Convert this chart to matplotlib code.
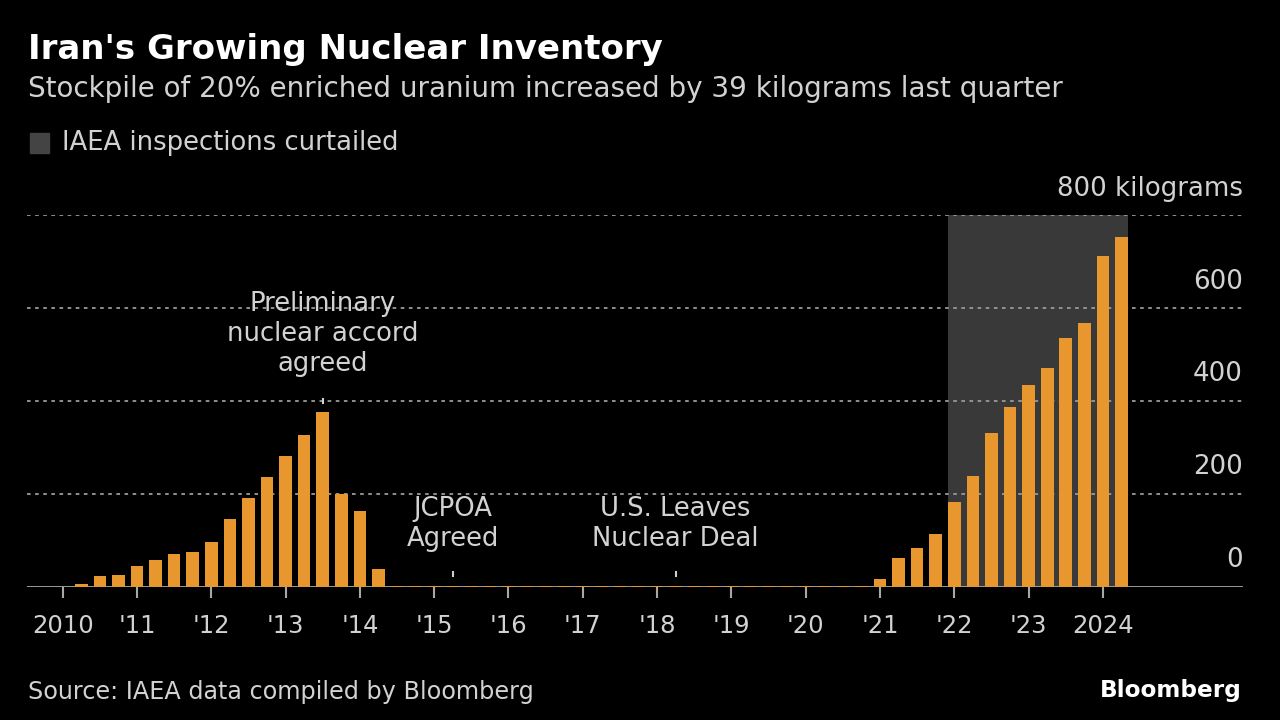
import numpy as np
import matplotlib
matplotlib.use("Agg")
import matplotlib.pyplot as plt
import matplotlib.transforms as mtransforms

# quarterly stockpile of 20% enriched uranium (kg), 2010 Q1 .. 2024 Q2
quarters = np.arange(58) * 0.25 + 2010
stock_kg = [0, 6, 22, 25,
            44, 57, 70, 74,
            96, 146, 191, 236,
            282, 326, 377, 199,
            162, 38, 2, 2,
            2, 2, 2, 2,
            2, 2, 2, 2,
            2, 2, 2, 2,
            2, 2, 2, 2,
            2, 2, 2, 2,
            2, 2, 2, 2,
            17, 62, 83, 113,
            182, 239, 331, 386,
            435, 470, 536, 567,
            712, 752]

tick_years = list(range(2010, 2025))
tick_labels = ["2010", "'11", "'12", "'13", "'14", "'15", "'16", "'17", "'18",
               "'19", "'20", "'21", "'22", "'23", "2024"]
y_ticks = [0, 200, 400, 600, 800]
y_labels = ["0", "200", "400", "600", "800 kilograms"]

shade_start, shade_end = 2022.0, 2024.25   # IAEA inspections curtailed

events = ["Preliminary\nnuclear accord\nagreed", "JCPOA\nAgreed", "U.S. Leaves\nNuclear Deal"]
event_x = [2013.5, 2015.25, 2018.25]
event_mark_y = [400, 27, 27]
event_text_y = [544, 136, 136]

ORANGE = "#E8962E"
SHADE = "#393939"
GRID = "#9a9a9a"
TXT = "#d2d2d2"
BW = 0.17

plt.rcParams["font.family"] = ["DejaVu Sans"]
fig = plt.figure(figsize=(12.8, 7.2), dpi=100, facecolor="black")
ax = fig.add_axes([27 / 1280, (720 - 586.7) / 720, 1216 / 1280, (586.7 - 215) / 720])
ax.set_facecolor("black")
ax.set_xlim(2009.52, 2025.885)
ax.set_ylim(0, 800)

ax.axvspan(shade_start - BW / 2, shade_end + BW / 2, color=SHADE, lw=0, zorder=1)
for v in y_ticks[1:]:
    ax.axhline(v, color=GRID, ls=(0, (2, 2.5)), lw=1.3, zorder=2)
ax.axhline(0, color="#a8a8a8", lw=2, zorder=2)
ax.bar(quarters, stock_kg, width=BW, color=ORANGE, zorder=3)

# y labels sit above their gridlines on the right
trans = mtransforms.blended_transform_factory(ax.transAxes, ax.transData)
for v, lab in zip(y_ticks, y_labels):
    ax.annotate(lab, (1.0, v), xycoords=trans, xytext=(0, 19), textcoords="offset points",
                ha="right", va="center", color=TXT, fontsize=18.7)

for lab, x, my, ty in zip(events, event_x, event_mark_y, event_text_y):
    ax.plot([x, x], [my - 5, my + 5], color="#cfcfcf", lw=1.5, zorder=4)
    ax.text(x, ty, lab, ha="center", va="center", color=TXT, fontsize=18.6, linespacing=1.2)

for s in ax.spines.values():
    s.set_visible(False)
ax.set_yticks([])
ax.set_xticks(tick_years)
ax.set_xticklabels(tick_labels)
ax.tick_params(axis="x", direction="out", length=8, width=1.5, color="#a8a8a8",
               labelcolor=TXT, labelsize=17.5, pad=12)

fig.text(28 / 1280, 1 - 49 / 720, "Iran's Growing Nuclear Inventory", color="white",
         fontsize=24.5, weight="bold", va="center")
fig.text(28 / 1280, 1 - 89 / 720,
         "Stockpile of 20% enriched uranium increased by 39 kilograms last quarter",
         color=TXT, fontsize=20, va="center")
fig.patches.append(plt.Rectangle((30 / 1280, 1 - 153 / 720), 19 / 1280, 20 / 720,
                                 transform=fig.transFigure, color="#444444"))
fig.text(62 / 1280, 1 - 143 / 720, "IAEA inspections curtailed", color=TXT, fontsize=18.6, va="center")
fig.text(28 / 1280, 1 - 692 / 720, "Source: IAEA data compiled by Bloomberg", color=TXT,
         fontsize=17.2, va="center")
fig.text(1242 / 1280, 1 - 690 / 720, "Bloomberg", color="white", fontsize=16.7,
         weight="bold", va="center", ha="right")

fig.savefig("out.png", dpi=100, facecolor="black")
